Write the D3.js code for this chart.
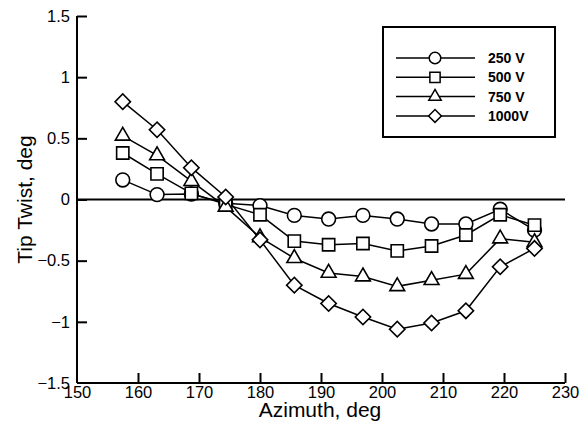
<!DOCTYPE html>
<html>
<head>
<meta charset="utf-8">
<script src="https://cdn.jsdelivr.net/npm/d3@7"></script>
<style>
  body { margin: 0; background: #fff; }
  svg { display: block; }
  svg text { font-family: Arial, "Liberation Sans", sans-serif; fill: #000; }
</style>
</head>
<body>
<svg id="chart" width="585" height="435"></svg>
<script>
// Azimuth positions (deg)
const azimuth = [157.5, 163.125, 168.75, 174.375, 180, 185.625, 191.25, 196.875, 202.5, 208.125, 213.75, 219.375, 225];

// Tip twist (deg) for each applied voltage
const twist250  = [0.16, 0.04, 0.045, -0.03, -0.05, -0.13, -0.16, -0.13, -0.16, -0.20, -0.20, -0.08, -0.25];
const twist500  = [0.38, 0.21, 0.05, -0.04, -0.125, -0.34, -0.37, -0.36, -0.42, -0.38, -0.29, -0.125, -0.21];
const twist750  = [0.52, 0.36, 0.15, -0.06, -0.31, -0.48, -0.60, -0.63, -0.71, -0.66, -0.61, -0.32, -0.35];
const twist1000 = [0.80, 0.57, 0.26, 0.02, -0.33, -0.70, -0.85, -0.96, -1.06, -1.01, -0.91, -0.55, -0.40];

const seriesNames = ["250 V", "500 V", "750 V", "1000V"];
const seriesSymbols = ["circle", "square", "triangle", "diamond"];

const xTicks = [150, 160, 170, 180, 190, 200, 210, 220, 230];
const yTicks = [-1.5, -1, -0.5, 0, 0.5, 1, 1.5];

const series = [twist250, twist500, twist750, twist1000].map((vals, i) => ({
  name: seriesNames[i],
  symbol: seriesSymbols[i],
  points: vals.map((v, j) => ({ x: azimuth[j], y: v }))
}));

const svg = d3.select("#chart");

const x = d3.scaleLinear().domain([150, 230]).range([77, 565]);
const y = d3.scaleLinear().domain([-1.5, 1.5]).range([383, 16]);

// Symbol path generators, sized per marker shape
function symbolPath(type, scale) {
  const s = scale || 1;
  switch (type) {
    case "circle":   return d3.symbol(d3.symbolCircle, 150 * s)();
    case "square":   return d3.symbol(d3.symbolSquare, 150 * s)();
    case "triangle": return d3.symbol(d3.symbolTriangle, 95 * s)();
    case "diamond":  return d3.symbol(d3.symbolSquare, 118 * s)();
  }
}
const symbolRotate = t => t === "diamond" ? " rotate(45)" : "";

// Axes: ticks pointing into the plot
const xAxis = d3.axisBottom(x).tickValues(xTicks).tickSize(-10).tickPadding(3).tickFormat(d3.format("d"));
const yAxis = d3.axisLeft(y).tickValues(yTicks).tickSize(-10).tickPadding(7).tickFormat(d => d3.format("")(d));

const gx = svg.append("g").attr("transform", `translate(0,${y(-1.5)})`).call(xAxis);
const gy = svg.append("g").attr("transform", `translate(${x(150)},0)`).call(yAxis);

[gx, gy].forEach(g => {
  g.attr("font-family", null).attr("font-size", null);
  g.select(".domain").attr("stroke", "#000").attr("stroke-width", 2);
  g.selectAll(".tick line").attr("stroke", "#000").attr("stroke-width", 2);
  g.selectAll(".tick text").attr("fill", "#000").style("font-size", "16.5px");
});
gy.select(".domain").attr("d", `M0,${y(1.5)}V${y(-1.5)}`);
gx.select(".domain").attr("d", `M${x(150)},0H${x(230)}`);
// corner ticks coincide with the other axis
gy.selectAll(".tick").filter(d => d === -1.5).select("line").remove();
gx.selectAll(".tick").filter(d => d === 150).select("line").remove();

// Zero reference line
svg.append("line")
  .attr("x1", x(150)).attr("x2", x(230))
  .attr("y1", y(0)).attr("y2", y(0))
  .attr("stroke", "#000").attr("stroke-width", 2);

// Axis titles
svg.append("text")
  .attr("x", (x(150) + x(230)) / 2 - 1).attr("y", 417)
  .attr("text-anchor", "middle")
  .style("font-size", "21px")
  .text("Azimuth, deg");

svg.append("text")
  .attr("transform", `translate(32,${y(0)}) rotate(-90)`)
  .attr("text-anchor", "middle")
  .style("font-size", "21px")
  .text("Tip Twist, deg");

// Series lines then markers
const line = d3.line().x(d => x(d.x)).y(d => y(d.y));

series.forEach(s => {
  svg.append("path")
    .datum(s.points)
    .attr("d", line)
    .attr("fill", "none")
    .attr("stroke", "#000")
    .attr("stroke-width", 1.5);
});

series.forEach(s => {
  svg.append("g").selectAll("path")
    .data(s.points)
    .join("path")
    .attr("d", symbolPath(s.symbol))
    .attr("transform", d => `translate(${x(d.x)},${y(d.y)})${symbolRotate(s.symbol)}`)
    .attr("fill", "#fff")
    .attr("stroke", "#000")
    .attr("stroke-width", 1.6);
});

// Legend
const legend = svg.append("g");
legend.append("rect")
  .attr("x", 383).attr("y", 27)
  .attr("width", 172).attr("height", 110)
  .attr("fill", "#fff").attr("stroke", "#000").attr("stroke-width", 2);

series.forEach((s, i) => {
  const ly = 58 + i * 19.3;
  legend.append("line")
    .attr("x1", 396).attr("x2", 475)
    .attr("y1", ly).attr("y2", ly)
    .attr("stroke", "#000").attr("stroke-width", 1.5);
  legend.append("path")
    .attr("d", symbolPath(s.symbol, 0.7))
    .attr("transform", `translate(435,${ly})${symbolRotate(s.symbol)}`)
    .attr("fill", "#fff").attr("stroke", "#000").attr("stroke-width", 1.5);
  legend.append("text")
    .attr("x", 488).attr("y", ly)
    .attr("dy", "0.35em")
    .style("font-size", "14px")
    .style("font-weight", "bold")
    .text(s.name);
});
</script>
</body>
</html>
